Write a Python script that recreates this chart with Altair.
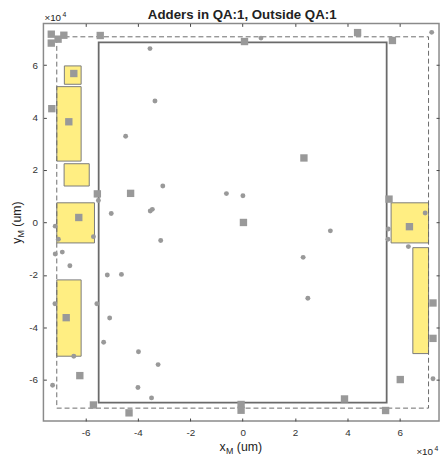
import altair as alt
import pandas as pd

# ---- data (um) ----
sq_x = [-73100, -73100, -70500, -68300, -54400, -64500, -72900, -66400, -55500, -42800,
        -62600, -67400, -62200, -57000, -43400, 43900, 57200, 55900, 63700, 23400,
        72700, 72700, 60200, 54600, 38900, 700, 300, -600, -600]
sq_y = [71800, 68400, 69900, 71400, 71300, 56800, 43400, 38400, 10900, 11100,
        1900, -36300, -58400, -69600, -72600, 72400, 69400, 8900, -1600, 24600,
        -30700, -44200, -59900, -71700, -67300, 69000, 0, -69400, -71600]

ci_x = [-44700, -71600, -70400, -57000, -55100, -50200, -71600, -68900, -66000, -51700,
        -46300, -71700, -55700, -50800, -53100, -64500, -39800, -72600, -40000, -35400,
        -33500, -30500, -6200, 100, -35300, -34500, -31300, -32300, -34800, 7000,
        33500, 23100, 24900, 55500, 55600, 69700, 63300, 72700, 72200]
ci_y = [32900, -1400, -6400, -5400, 8400, 3400, -12000, -11300, -16500, -20000,
        -19800, -31000, -31000, -36400, -45700, -51000, -49300, -62100, -62900, 66300,
        46300, 13900, 11000, 10200, 4400, 5000, -6900, -54200, -66900, 70300,
        -3200, -13300, -28900, -6400, -2500, 3600, -9200, -59600, 72500]

zone_x1 = [-68100, -71000, -68200, -71000, -71000, 56700, 65000]
zone_x2 = [-61700, -61700, -58600, -56600, -61700, 71000, 71000]
zone_y1 = [52700, 23400, 13900, -7800, -51000, -7800, -50000]
zone_y2 = [59700, 51800, 22400, 7500, -21900, 7500, -9600]

die_box = [-55000, 55000, -68700, 68700]
bound_box = [-71000, 71000, -70800, 70800]

tick_vals = [-60000, -40000, -20000, 0, 20000, 40000, 60000]
XD = [-76100, 75000]
YD = [-75700, 75900]

FONT = "Liberation Sans"
GRAY = "#999999"
W, H = 402, 404

xs = alt.Scale(domain=XD, nice=False, zero=False)
ys = alt.Scale(domain=YD, nice=False, zero=False)

lab_x = alt.Axis(orient="bottom", values=tick_vals, labelExpr="datum.value / 10000",
                 ticks=False, domain=False, grid=False, title=None, labelPadding=7,
                 labelFontSize=10, labelColor="#333333", labelFont=FONT)
lab_y = alt.Axis(orient="left", values=tick_vals, labelExpr="datum.value / 10000",
                 ticks=False, domain=False, grid=False, title=None, labelPadding=6,
                 labelFontSize=10, labelColor="#333333", labelFont=FONT)


def tick_axis(orient):
    return alt.Axis(orient=orient, values=tick_vals, labels=False, ticks=True, tickSize=3,
                    tickColor="#444444", tickWidth=1, offset=-3, domain=False, grid=False,
                    title=None)


sq = pd.DataFrame({"x": sq_x, "y": sq_y})
ci = pd.DataFrame({"x": ci_x, "y": ci_y})
zones = pd.DataFrame({"x1": zone_x1, "x2": zone_x2, "y1": zone_y1, "y2": zone_y2})
die = pd.DataFrame({"x1": [die_box[0]], "x2": [die_box[1]], "y1": [die_box[2]], "y2": [die_box[3]]})
bnd = pd.DataFrame({"x1": [bound_box[0]], "x2": [bound_box[1]], "y1": [bound_box[2]], "y2": [bound_box[3]]})

zone_layer = alt.Chart(zones).mark_rect(fill="#FFEE82", stroke="#7a7a7a", strokeWidth=1).encode(
    x=alt.X("x1:Q", scale=xs, axis=None), x2="x2:Q",
    y=alt.Y("y1:Q", scale=ys, axis=None), y2="y2:Q")

die_layer = alt.Chart(die).mark_rect(fill="white", fillOpacity=0, stroke="#6a6a6a", strokeWidth=1.8).encode(
    x=alt.X("x1:Q", scale=xs, axis=tick_axis("bottom")), x2="x2:Q",
    y=alt.Y("y1:Q", scale=ys, axis=tick_axis("left")), y2="y2:Q")

bnd_layer = alt.Chart(bnd).mark_rect(fill="white", fillOpacity=0, stroke="#6a6a6a", strokeWidth=1,
                                     strokeDash=[5, 3]).encode(
    x=alt.X("x1:Q", scale=xs, axis=tick_axis("top")), x2="x2:Q",
    y=alt.Y("y1:Q", scale=ys, axis=tick_axis("right")), y2="y2:Q")

ci_layer = alt.Chart(ci).mark_point(shape="circle", filled=True, size=25, color=GRAY, opacity=1).encode(
    x=alt.X("x:Q", scale=xs, axis=None), y=alt.Y("y:Q", scale=ys, axis=None))

sq_layer = alt.Chart(sq).mark_point(shape="square", filled=True, size=56, color=GRAY, opacity=1).encode(
    x=alt.X("x:Q", scale=xs, axis=lab_x), y=alt.Y("y:Q", scale=ys, axis=lab_y))


def txt(s, x, y, size, angle=0, bold=False, dx=0, dy=0, align="left"):
    return alt.Chart(pd.DataFrame({"t": [s]})).mark_text(
        font=FONT, fontSize=size, fontWeight="bold" if bold else "normal", angle=angle,
        dx=dx, dy=dy, align=align, baseline="alphabetic", color="#222222").encode(
        x=alt.value(x), y=alt.value(y), text=alt.value(s))


texts = [
    txt("Adders in QA:1, Outside QA:1", 202, -4, 13.5, bold=True, align="center"),
    # x label
    txt("x", 179, 435, 12.5),
    txt("M", 179, 435, 9, dx=6.5, dy=3),
    txt("(um)", 179, 435, 12.5, dx=17.5),
    # y label
    txt("y", -23, 224, 12.5, angle=270),
    txt("M", -23, 224, 9, angle=270, dx=6.5, dy=3),
    txt("(um)", -23, 224, 12.5, angle=270, dx=17.5),
    # exponents
    txt("\u00d710", 1, -2, 10),
    txt("4", 1, -2, 7, dx=18.5, dy=-5),
    txt("\u00d710", 379, 439, 10),
    txt("4", 379, 439, 7, dx=18.5, dy=-5),
]

chart = alt.layer(zone_layer, die_layer, bnd_layer, ci_layer, sq_layer, *texts).resolve_axis(
    x="independent", y="independent").properties(
    width=W, height=H,
    autosize=alt.AutoSizeParams(type="none"),
    padding={"left": 36, "top": 12, "right": 1, "bottom": 38},
    background="white",
).configure_view(stroke="#8a8a8a", strokeWidth=1.5)

chart.save("out.html", embed_options={"renderer": "svg", "actions": False})
